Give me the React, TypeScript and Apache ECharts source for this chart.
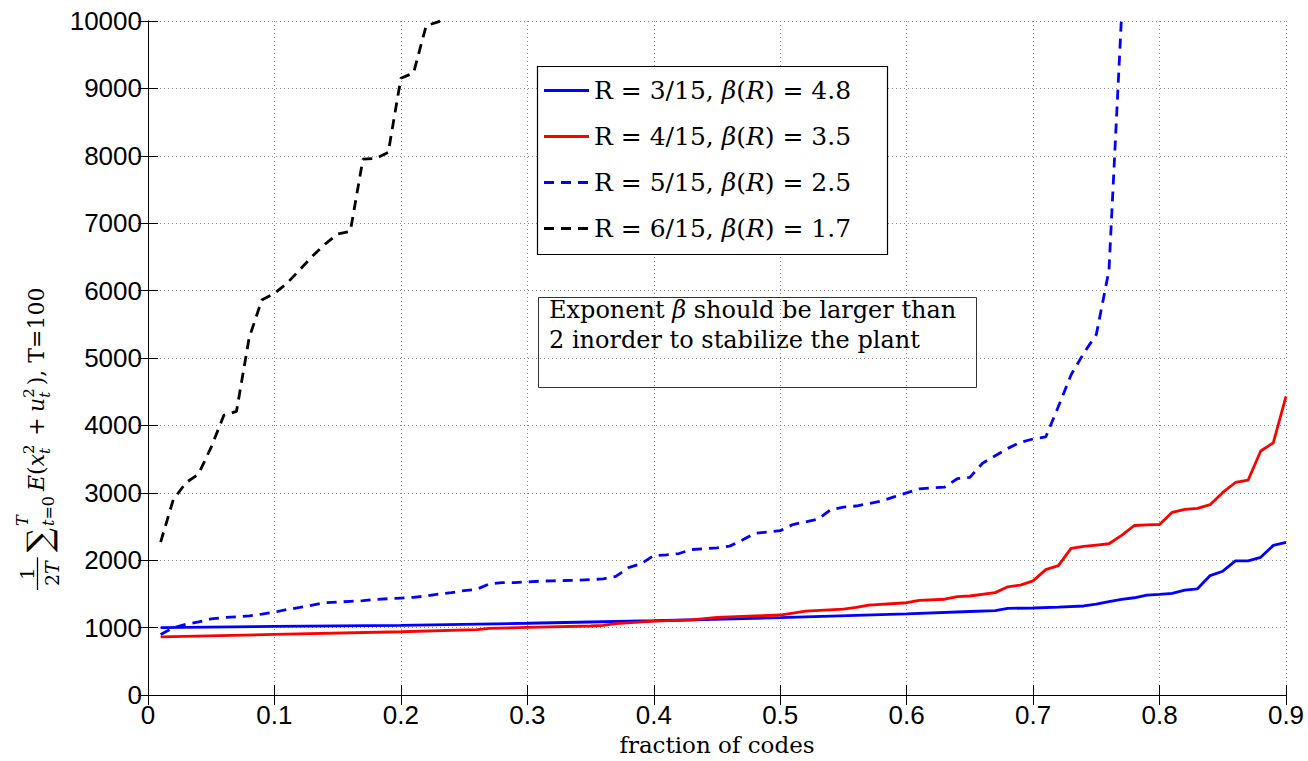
import React, { useEffect, useRef } from 'react';
import * as echarts from 'echarts';

const seriesNames = [
  'R = 3/15, β(R) = 4.8',
  'R = 4/15, β(R) = 3.5',
  'R = 5/15, β(R) = 2.5',
  'R = 6/15, β(R) = 1.7',
];

const r3: [number, number][] = [[0.01,1000],[0.1,1020],[0.2,1035],[0.3,1066],[0.4,1103],[0.5,1148],[0.6,1204],[0.65,1240],[0.67,1253],[0.68,1287],[0.7,1292],[0.72,1305],[0.74,1322],[0.75,1350],[0.76,1385],[0.77,1419],[0.78,1444],[0.79,1484],[0.8,1495],[0.81,1508],[0.82,1557],[0.83,1577],[0.84,1773],[0.85,1838],[0.86,1990],[0.87,1990],[0.88,2044],[0.89,2221],[0.9,2265]];

const r4: [number, number][] = [[0.01,865],[0.1,900],[0.2,940],[0.26,970],[0.27,990],[0.3,1005],[0.35,1025],[0.36,1035],[0.37,1060],[0.4,1097],[0.43,1115],[0.45,1152],[0.48,1175],[0.5,1188],[0.52,1245],[0.55,1275],[0.56,1300],[0.57,1335],[0.6,1370],[0.61,1405],[0.63,1422],[0.64,1462],[0.65,1470],[0.67,1520],[0.68,1606],[0.69,1632],[0.7,1695],[0.71,1862],[0.72,1921],[0.73,2177],[0.74,2205],[0.75,2225],[0.76,2245],[0.77,2369],[0.78,2516],[0.79,2525],[0.8,2531],[0.81,2712],[0.82,2756],[0.83,2771],[0.84,2825],[0.85,3007],[0.86,3154],[0.87,3188],[0.88,3621],[0.89,3744],[0.9,4432]];

const r5: [number, number][] = [[0.01,900],[0.02,1000],[0.03,1050],[0.04,1085],[0.05,1130],[0.06,1150],[0.07,1160],[0.08,1175],[0.09,1200],[0.1,1230],[0.11,1270],[0.12,1300],[0.13,1335],[0.14,1370],[0.15,1380],[0.16,1390],[0.17,1400],[0.18,1420],[0.19,1430],[0.2,1440],[0.21,1450],[0.22,1470],[0.23,1500],[0.24,1520],[0.25,1550],[0.26,1570],[0.27,1650],[0.28,1670],[0.29,1670],[0.3,1680],[0.31,1690],[0.32,1695],[0.33,1700],[0.34,1705],[0.35,1712],[0.36,1725],[0.37,1760],[0.38,1890],[0.39,1950],[0.4,2070],[0.41,2080],[0.42,2100],[0.43,2160],[0.44,2170],[0.45,2185],[0.46,2210],[0.47,2300],[0.48,2400],[0.49,2420],[0.5,2440],[0.51,2530],[0.52,2570],[0.53,2610],[0.54,2750],[0.55,2790],[0.56,2805],[0.57,2840],[0.58,2880],[0.59,2940],[0.6,3000],[0.61,3060],[0.62,3075],[0.63,3085],[0.64,3210],[0.65,3230],[0.66,3440],[0.67,3550],[0.68,3660],[0.69,3750],[0.7,3800],[0.71,3830],[0.72,4280],[0.73,4750],[0.74,5070],[0.75,5350],[0.76,6300],[0.77,10100]];

const r6: [number, number][] = [[0.01,2270],[0.02,2900],[0.03,3150],[0.04,3280],[0.05,3680],[0.06,4150],[0.07,4210],[0.08,5300],[0.09,5860],[0.1,5960],[0.11,6110],[0.12,6310],[0.13,6510],[0.14,6690],[0.15,6840],[0.16,6880],[0.17,7950],[0.18,7960],[0.19,8050],[0.2,9150],[0.21,9230],[0.22,9930],[0.23,9990],[0.24,10150]];

const xName = 'fraction of codes';
const noteLines = ['Exponent {i|β} should be larger than', '2 inorder to stabilize the plant'];

const SERIF = 'DejaVu Serif';
const SANS = 'Liberation Sans';

export default function App() {
  const ref = useRef<HTMLDivElement>(null);
  useEffect(() => {
    const chart = echarts.init(ref.current!, null, { renderer: 'svg' });
    const canvas = document.createElement('canvas');
    const ctx = canvas.getContext('2d')!;
    const mw = (t: string, size: number, italic: boolean) => {
      ctx.font = `${italic ? 'italic ' : ''}${size}px "${SERIF}"`;
      return ctx.measureText(t).width;
    };
    const parts: any[] = [];
    const put = (t: string, size: number, italic: boolean, x: number, base: number) => {
      parts.push({
        type: 'text', x, y: base - 0.32 * size,
        style: { text: t, fontFamily: SERIF, fontSize: size, fontStyle: italic ? 'italic' : 'normal', fill: '#000', align: 'left', verticalAlign: 'middle' },
      });
      return mw(t, size, italic);
    };
    const F = 22, S = 19, SC = 16, SS = 15;
    let d = 0;
    const wNum = mw('1', S, false);
    const w2 = mw('2', S, false);
    const wDen = w2 + mw('T', S, true);
    const wf = Math.max(wNum, wDen) + 8;
    put('1', S, false, d + (wf - wNum) / 2, -11);
    put('2', S, false, d + (wf - wDen) / 2, 14);
    put('T', S, true, d + (wf - wDen) / 2 + w2, 14);
    parts.push({ type: 'line', shape: { x1: d, y1: -6.5, x2: d + wf, y2: -6.5 }, style: { stroke: '#000', lineWidth: 1.3 } });
    d += wf + 5;
    d += put('∑', 34, false, d, 6);
    d += 2;
    const wT = put('T', SC, true, d, -16);
    let ws = put('t', SC, true, d, 10);
    ws += put('=0', SC, false, d + ws, 10);
    d += Math.max(wT, ws) + 5;
    d += put('E', F, true, d, 0);
    d += put('(', F, false, d, 0);
    d += put('x', F, true, d, 0);
    let a = put('2', SS, false, d, -10);
    let b = put('t', SS, true, d, 6);
    d += Math.max(a, b) + 3;
    d += put('\u2005+\u2005', F, false, d, 0);
    d += put('u', F, true, d, 0);
    a = put('2', SS, false, d, -10);
    b = put('t', SS, true, d, 6);
    d += Math.max(a, b) + 3;
    d += put('), T=100', F, false, d, 0);

    const colors = ['#0000ff', '#ff0000', '#0000ff', '#000000'];
    const dash = [10, 7];
    const types: any[] = ['solid', 'solid', dash, dash];
    const datas = [r3, r4, r5, r6];

    const legendEls: any[] = [
      { type: 'rect', z: 5, shape: { x: 537.5, y: 66.5, width: 350, height: 188 }, style: { fill: '#fff', stroke: '#000', lineWidth: 1.2 } },
    ];
    seriesNames.forEach((n, i) => {
      const yc = 90.5 + i * 46;
      legendEls.push({ type: 'line', z: 6, shape: { x1: 544, y1: yc, x2: 589, y2: yc },
        style: { stroke: colors[i], lineWidth: 2.8, lineDash: i >= 2 ? dash : null } });
      legendEls.push({ type: 'text', z: 6, x: 594, y: yc,
        style: { text: n.replace('β(R)', '{i|β}({i|R})'), fontFamily: SERIF, fontSize: 25, fill: '#000', align: 'left', verticalAlign: 'middle',
          rich: { i: { fontFamily: SERIF, fontSize: 25, fontStyle: 'italic', fill: '#000' } } } });
    });

    const gridLine = { show: true, lineStyle: { color: '#8c8c8c', width: 1, type: [1, 3] as any } };
    const axLine = { show: true, lineStyle: { color: '#000', width: 1 } };
    const tick = { show: true, inside: true, length: 10, lineStyle: { color: '#000', width: 1 } };

    const option: any = {
      animation: false,
      backgroundColor: '#fff',
      grid: { left: 148, right: 22, top: 21, bottom: 62, containLabel: false },
      xAxis: [
        {
          type: 'value', min: 0, max: 0.9, interval: 0.1, position: 'bottom',
          axisLine: axLine, axisTick: tick, splitLine: gridLine,
          axisLabel: { fontFamily: SANS, fontSize: 26, color: '#000', margin: 7,
            formatter: (v: number) => (v === 0 ? '0' : v.toFixed(1)) },
          name: xName, nameLocation: 'middle', nameGap: 37,
          nameTextStyle: { fontFamily: SERIF, fontSize: 23, color: '#000' },
        },
        {
          type: 'value', min: 0, max: 0.9, interval: 0.1, position: 'top',
          axisLine: axLine, axisTick: tick, splitLine: { show: false }, axisLabel: { show: false },
        },
      ],
      yAxis: [
        {
          type: 'value', min: 0, max: 10000, interval: 1000, position: 'left',
          axisLine: axLine, axisTick: tick, splitLine: gridLine,
          axisLabel: { fontFamily: SANS, fontSize: 26, color: '#000', margin: 6, formatter: (v: number) => String(Math.round(v)) },
        },
        {
          type: 'value', min: 0, max: 10000, interval: 1000, position: 'right',
          axisLine: axLine, axisTick: tick, splitLine: { show: false }, axisLabel: { show: false },
        },
      ],
      graphic: [
        ...legendEls,
        { type: 'rect', z: 5, shape: { x: 538.5, y: 297.5, width: 438, height: 90 }, style: { fill: 'none', stroke: '#333', lineWidth: 1 } },
        { type: 'text', z: 6, x: 549, y: 295,
          style: { text: noteLines.join('\n'), fontFamily: SERIF, fontSize: 24, fill: '#000', lineHeight: 30, align: 'left', verticalAlign: 'top',
            rich: { i: { fontFamily: SERIF, fontSize: 24, fontStyle: 'italic', fill: '#000', lineHeight: 30 } } } },
        { type: 'group', x: 44, y: 590, rotation: Math.PI / 2, children: parts },
      ],
      series: seriesNames.map((n, i) => ({
        name: n, type: 'line', data: datas[i], symbol: 'none', showSymbol: false, clip: true,
        xAxisIndex: 0, yAxisIndex: 0,
        lineStyle: { color: colors[i], width: 2.8, type: types[i] },
        itemStyle: { color: colors[i] },
      })),
    };
    chart.setOption(option);
    return () => chart.dispose();
  }, []);
  return <div ref={ref} style={{ position: 'fixed', left: 0, top: 0, width: 1308, height: 761, background: '#fff' }} />;
}
